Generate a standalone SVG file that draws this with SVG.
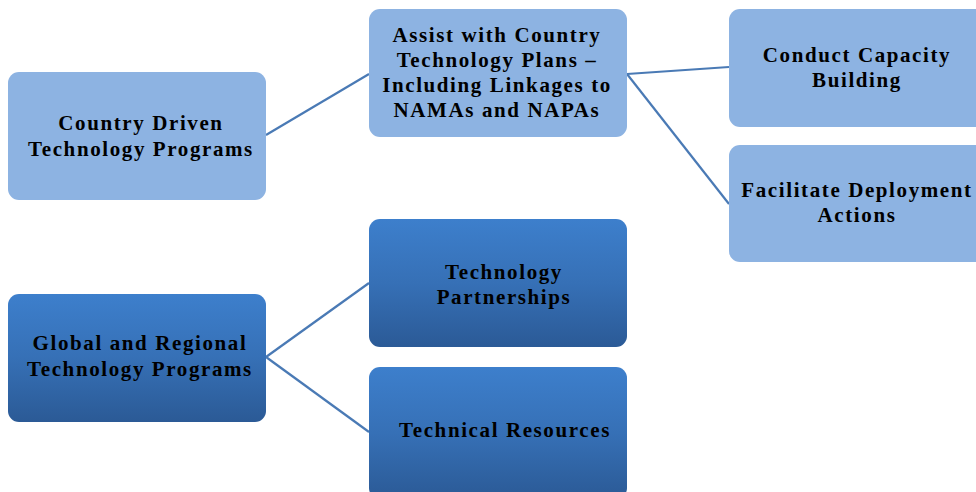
<svg xmlns="http://www.w3.org/2000/svg" width="976" height="492" viewBox="0 0 976 492">
<defs>
<linearGradient id="dark" x1="0" y1="0" x2="0" y2="1">
<stop offset="0" stop-color="#3d7fcc"/>
<stop offset="0.5" stop-color="#3670b6"/>
<stop offset="1" stop-color="#2b5a96"/>
</linearGradient>
<style>
.light{fill:#8db3e2;}
.dark{fill:url(#dark);}
.lbl{font-family:"Liberation Serif","Times New Roman",serif;font-weight:bold;font-size:21px;letter-spacing:1.6px;fill:#000;text-anchor:middle;}
.con{stroke:#4a7ab5;stroke-width:2.2;fill:none;}
</style>
</defs>
<rect width="976" height="492" fill="#fff"/>
<g id="connectors">
<line class="con" x1="266" y1="135" x2="369" y2="74"/>
<line class="con" x1="627" y1="74" x2="729" y2="67"/>
<line class="con" x1="627" y1="74" x2="729" y2="204"/>
<line class="con" x1="266" y1="357" x2="369" y2="283"/>
<line class="con" x1="266" y1="357" x2="369" y2="432"/>
</g>
<g id="country-driven">
<rect class="light" x="8" y="72" width="258" height="128" rx="11"/>
<text class="lbl" x="141" y="130">Country Driven</text>
<text class="lbl" x="141" y="156">Technology Programs</text>
</g>
<g id="assist">
<rect class="light" x="369" y="9" width="258" height="128" rx="11"/>
<text class="lbl" x="497" y="42">Assist with Country</text>
<text class="lbl" x="497" y="67">Technology Plans –</text>
<text class="lbl" x="497" y="92">Including Linkages to</text>
<text class="lbl" x="497" y="117">NAMAs and NAPAs</text>
</g>
<g id="capacity">
<rect class="light" x="729" y="9" width="258" height="118" rx="11"/>
<text class="lbl" x="857" y="62">Conduct Capacity</text>
<text class="lbl" x="857" y="87">Building</text>
</g>
<g id="deployment">
<rect class="light" x="729" y="145" width="258" height="117" rx="11"/>
<text class="lbl" x="857" y="197">Facilitate Deployment</text>
<text class="lbl" x="857" y="222">Actions</text>
</g>
<g id="global">
<rect class="dark" x="8" y="294" width="258" height="128" rx="11"/>
<text class="lbl" x="140" y="350">Global and Regional</text>
<text class="lbl" x="140" y="376">Technology Programs</text>
</g>
<g id="partnerships">
<rect class="dark" x="369" y="219" width="258" height="128" rx="11"/>
<text class="lbl" x="504" y="279">Technology</text>
<text class="lbl" x="504" y="304">Partnerships</text>
</g>
<g id="resources">
<rect class="dark" x="369" y="367" width="258" height="132" rx="11"/>
<text class="lbl" x="505" y="437">Technical Resources</text>
</g>
</svg>
